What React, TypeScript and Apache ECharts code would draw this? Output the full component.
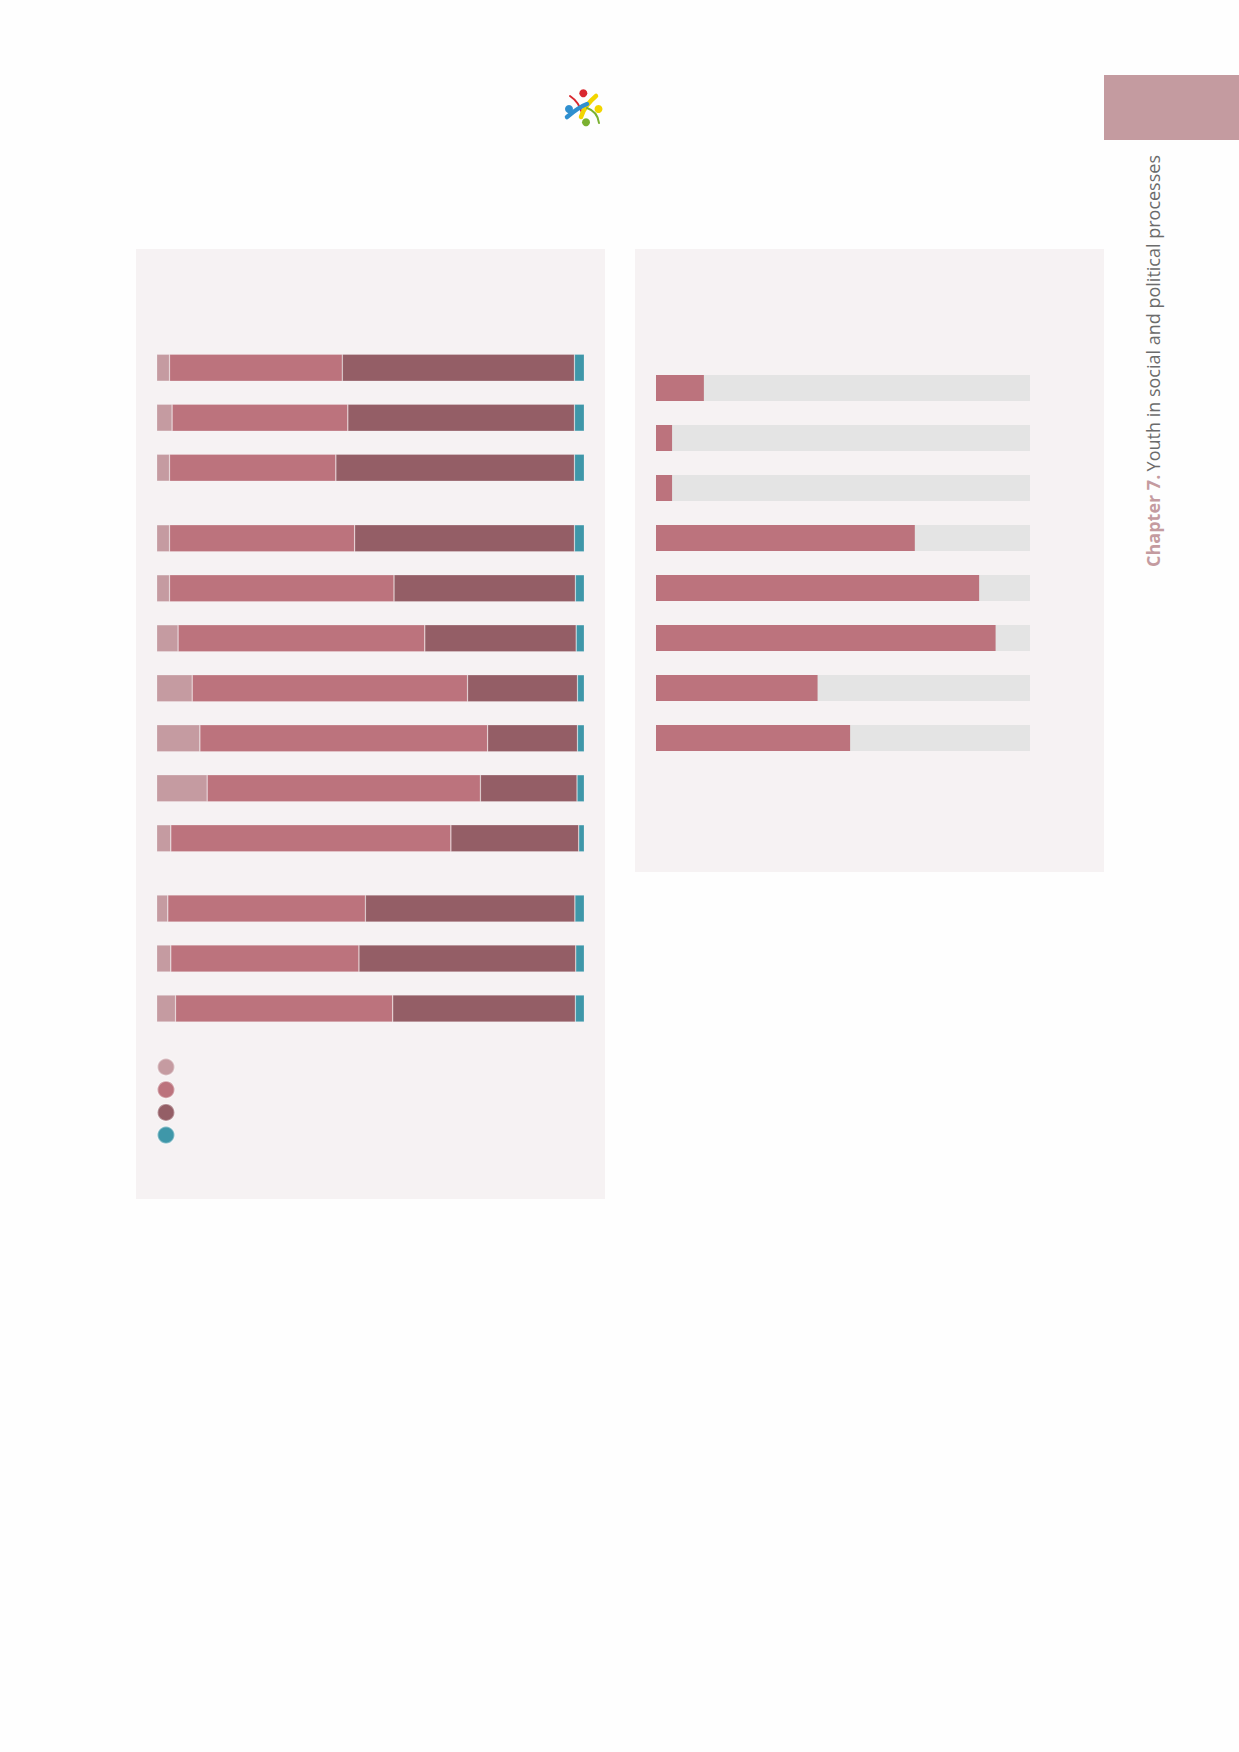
import React, { useEffect, useRef } from "react";
import * as echarts from "echarts";

// Left chart: four-part shares (percent), three groups of rows
const group1 = ["Row 1", "Row 2", "Row 3"];
const group2 = ["Row 4", "Row 5", "Row 6", "Row 7", "Row 8", "Row 9", "Row 10"];
const group3 = ["Row 11", "Row 12", "Row 13"];

const seg1G1 = [3.0, 3.6, 3.0];
const seg2G1 = [40.4, 41.1, 38.9];
const seg3G1 = [54.3, 53.0, 55.8];
const seg4G1 = [2.3, 2.3, 2.3];

const seg1G2 = [3.0, 3.0, 5.0, 8.3, 10.1, 11.8, 3.3];
const seg2G2 = [43.3, 52.5, 57.7, 64.4, 67.3, 63.9, 65.5];
const seg3G2 = [51.4, 42.4, 35.4, 25.7, 21.0, 22.6, 29.9];
const seg4G2 = [2.3, 2.1, 1.9, 1.6, 1.6, 1.7, 1.3];

const seg1G3 = [2.6, 3.3, 4.4];
const seg2G3 = [46.2, 44.0, 50.8];
const seg3G3 = [49.0, 50.7, 42.7];
const seg4G3 = [2.2, 2.0, 2.1];

const segmentNames = ["Segment 1", "Segment 2", "Segment 3", "Segment 4"];

// Right chart: single share per row (percent) against a 100% track
const rightRows = ["Item 1", "Item 2", "Item 3", "Item 4", "Item 5", "Item 6", "Item 7", "Item 8"];
const rightValues = [12.8, 4.3, 4.3, 69.2, 86.4, 90.8, 43.2, 51.9];
const rightTrack = [100, 100, 100, 100, 100, 100, 100, 100];

const segColors = ["#c59ba1", "#bc737d", "#945e66", "#3f97a9"];

export default function App() {
  const ref = useRef<HTMLDivElement>(null);
  useEffect(() => {
    if (!ref.current) return;
    const chart = echarts.init(ref.current, null, { renderer: "svg" });
    const W = 1239;
    const leftL = 156.7;
    const leftR = W - 584.3;
    const grids = [
      { left: leftL, right: leftR, top: 342.7, height: 150 },
      { left: leftL, right: leftR, top: 513.3, height: 350 },
      { left: leftL, right: leftR, top: 883.5, height: 150 },
      { left: 656, right: W - 1030, top: 363, height: 400 },
    ];
    const cats = [group1, group2, group3, rightRows];
    const xAxis = grids.map((_, i) => ({
      type: "value",
      gridIndex: i,
      min: 0,
      max: 100,
      show: false,
    }));
    const yAxis = cats.map((c, i) => ({
      type: "category",
      gridIndex: i,
      data: c,
      inverse: true,
      show: false,
    }));
    const groupData = [
      [seg1G1, seg2G1, seg3G1, seg4G1],
      [seg1G2, seg2G2, seg3G2, seg4G2],
      [seg1G3, seg2G3, seg3G3, seg4G3],
    ];
    const series: any[] = [];
    groupData.forEach((segs, gi) => {
      segs.forEach((vals, si) => {
        series.push({
          type: "bar",
          name: segmentNames[si],
          xAxisIndex: gi,
          yAxisIndex: gi,
          stack: "g" + gi,
          barWidth: 27,
          data: vals,
          itemStyle: {
            color: segColors[si],
            borderColor: "rgba(255,255,255,0.35)",
            borderWidth: 0.6,
          },
        });
      });
    });
    series.push({
      type: "bar",
      name: "Track",
      xAxisIndex: 3,
      yAxisIndex: 3,
      barWidth: 26,
      data: rightTrack,
      itemStyle: { color: "#e4e4e4" },
      z: 1,
    });
    series.push({
      type: "bar",
      name: "Value",
      xAxisIndex: 3,
      yAxisIndex: 3,
      barWidth: 26,
      barGap: "-100%",
      data: rightValues,
      itemStyle: { color: "#bc737d" },
      z: 2,
    });

    const logoLine = (x1: number, y1: number, cx1: number, cy1: number, cx2: number, cy2: number, x2: number, y2: number, color: string, w: number) => ({
      type: "bezierCurve",
      shape: { x1, y1, cpx1: cx1, cpy1: cy1, cpx2: cx2, cpy2: cy2, x2, y2 },
      style: { stroke: color, lineWidth: w, fill: "none", lineCap: "round" },
      z: 5,
    });

    chart.setOption({
      animation: false,
      backgroundColor: "#fefefe",
      grid: grids,
      xAxis,
      yAxis,
      series,
      legend: {
        data: segmentNames,
        orient: "vertical",
        left: 156.5,
        top: 1057.5,
        icon: "circle",
        itemWidth: 17,
        itemHeight: 17,
        itemGap: 3.7,
        padding: 0,
        selectedMode: false,
        formatter: () => "",
        textStyle: { fontSize: 1 },
      },
      graphic: [
        {
          type: "rect",
          shape: { x: 136, y: 249, width: 469, height: 950 },
          style: { fill: "#f6f2f3" },
          z: -10,
          silent: true,
        },
        {
          type: "rect",
          shape: { x: 635, y: 249, width: 469, height: 623 },
          style: { fill: "#f6f2f3" },
          z: -10,
          silent: true,
        },
        {
          type: "rect",
          shape: { x: 1104, y: 75, width: 135, height: 65 },
          style: { fill: "#c49ba0" },
          z: -10,
          silent: true,
        },
        {
          type: "text",
          x: 1153,
          y: 567,
          rotation: Math.PI / 2,
          style: {
            text: "{b|Chapter 7.} {n|Youth in social and political processes}",
            align: "left",
            verticalAlign: "middle",
            rich: {
              b: { fontFamily: "Open Sans", fontWeight: "bold", fontSize: 18, fill: "#c49ba0" },
              n: { fontFamily: "Open Sans", fontSize: 18, fill: "#6b6b6b" },
            },
          },
          z: 5,
        },
        // logo
        logoLine(570, 96, 576, 100, 580, 106, 582, 113, "#d9282f", 2),
        logoLine(596, 96, 590, 101, 584, 107, 581, 117, "#f2d500", 4.5),
        logoLine(567, 117, 573, 112, 579, 107, 587, 104, "#2f8fcf", 4.5),
        logoLine(587, 108, 593, 110, 598, 115, 599, 123, "#7ab030", 2),
        { type: "circle", shape: { cx: 583.3, cy: 93.3, r: 4 }, style: { fill: "#d9282f" }, z: 5 },
        { type: "circle", shape: { cx: 598.5, cy: 109, r: 4 }, style: { fill: "#f2d500" }, z: 5 },
        { type: "circle", shape: { cx: 586, cy: 122.3, r: 4 }, style: { fill: "#7ab030" }, z: 5 },
        { type: "circle", shape: { cx: 569, cy: 109, r: 4 }, style: { fill: "#2f8fcf" }, z: 5 },
      ],
    });
    return () => chart.dispose();
  }, []);
  return (
    <div
      ref={ref}
      style={{ position: "absolute", left: 0, top: 0, width: 1239, height: 1752 }}
    />
  );
}
